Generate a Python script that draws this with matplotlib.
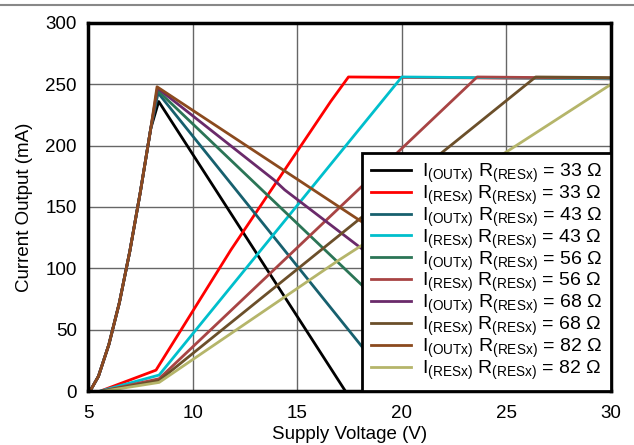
import matplotlib.pyplot as plt
from matplotlib.lines import Line2D
import numpy as np

plt.rcParams['font.family'] = ['Liberation Sans', 'DejaVu Sans']

# rising part shared by all I(OUTx) curves
rise_v = [5.1, 5.5, 6.0, 6.5, 7.0, 7.5, 8.0]
rise_i = [0, 12, 38, 72, 114, 162, 214]

# I(OUTx) curves: peak, then (mostly) linear fall
out_v = [
    [8.38, 17.3],
    [8.35, 19.8],
    [8.33, 23.4],
    [8.32, 13.9, 14.4, 27.0],
    [8.3, 30.0],
]
out_i = [
    [236, 0],
    [243, 0],
    [245, 0],
    [247, 172, 164, 0],
    [248, 4],
]

# I(RESx) curves: slow start, knee, linear rise, plateau
res_v = [
    [5.6, 8.25, 11.83, 16.6, 17.45, 30],
    [5.6, 8.4, 20.0, 30],
    [5.7, 8.4, 23.6, 30],
    [5.7, 8.4, 26.4, 30],
    [5.8, 8.4, 16.93, 30],
]
res_i = [
    [0, 17, 115, 236, 256, 254.5],
    [0, 13, 256, 254.5],
    [0, 10, 256, 255],
    [0, 8.5, 256, 255.5],
    [0, 7, 106, 250],
]

resist = [33, 43, 56, 68, 82]
out_colors = ['#000000', '#17606e', '#2b7556', '#6a2a6a', '#8b4a1e']
res_colors = ['#ff0000', '#00bfcc', '#a84444', '#6b4f2a', '#b5b56a']

fig = plt.figure(figsize=(6.34, 4.45), dpi=100)
ax = fig.add_axes([88 / 634, 1 - 391 / 445, (611 - 88) / 634, (391 - 23) / 445])

for k in range(5):
    ax.plot(rise_v + out_v[k], rise_i + out_i[k], color=out_colors[k], lw=2,
            label=r'I$_{\mathregular{(OUTx)}}$ R$_{\mathregular{(RESx)}}$ = %d Ω' % resist[k])
    ax.plot(res_v[k], res_i[k], color=res_colors[k], lw=2,
            label=r'I$_{\mathregular{(RESx)}}$ R$_{\mathregular{(RESx)}}$ = %d Ω' % resist[k])

leg = ax.legend(loc='lower right', fontsize=14, frameon=True, fancybox=False,
                borderaxespad=0, handlelength=2.1, labelspacing=-0.08,
                borderpad=0.45, handletextpad=0.55)
leg.get_frame().set_edgecolor('black')
leg.get_frame().set_linewidth(2)
leg.get_frame().set_alpha(1)

ax.set_xlim(5, 30)
ax.set_ylim(0, 300)
ax.set_xticks([5, 10, 15, 20, 25, 30])
ax.set_yticks([0, 50, 100, 150, 200, 250, 300])
ax.grid(True, color='#666666', lw=1)
ax.tick_params(length=0, labelsize=13.5)
ax.tick_params(axis='x', pad=10)
ax.tick_params(axis='y', pad=8)
for s in ax.spines.values():
    s.set_linewidth(2.5)
ax.set_xlabel('Supply Voltage (V)', fontsize=13.5, labelpad=3)
ax.set_ylabel('Current Output (mA)', fontsize=13.5, labelpad=9)

fig.add_artist(Line2D([0, 1], [1 - 5 / 445, 1 - 5 / 445], color='#888888', lw=1.5))

fig.savefig('out.png', dpi=100)
